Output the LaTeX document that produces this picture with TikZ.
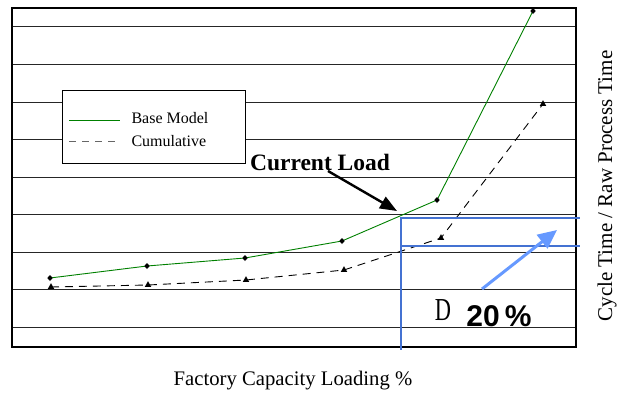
\documentclass[tikz,border=0pt]{standalone}
\usepackage{fontspec}
\setmainfont{Liberation Serif}
\setsansfont{Liberation Sans}
\usetikzlibrary{arrows.meta}
\definecolor{basegreen}{RGB}{0,128,0}
\definecolor{loadblue}{RGB}{68,114,210}
\definecolor{shiftblue}{RGB}{102,153,255}
\begin{document}
\begin{tikzpicture}[x=1pt,y=-1pt,
  gridline/.style={black!85,line width=0.9pt},
  baseline/.style={basegreen,line width=0.9pt},
  cumline/.style={black,line width=0.9pt,dash pattern=on 8pt off 6pt},
  loadline/.style={loadblue,line width=2pt}]

\useasboundingbox (0,0) rectangle (622,394);

% grid and frame
\foreach \gy in {26,64,102,139,177,214,252,289,327}
  \draw[gridline] (12,\gy) -- (576,\gy);
\draw[line width=1.4pt] (12,8) rectangle (576,347);

% base model
\coordinate (b1) at (50,278);
\coordinate (b2) at (147,266);
\coordinate (b3) at (245,258);
\coordinate (b4) at (342,241);
\coordinate (b5) at (437,200);
\coordinate (b6) at (533,11);
\draw[baseline] (b1)--(b2)--(b3)--(b4)--(b5)--(b6);
\foreach \p in {b1,b2,b3,b4,b5,b6}
  \fill (\p) ++(0,-3) -- ++(2.7,3) -- ++(-2.7,3) -- ++(-2.7,-3) -- cycle;

% cumulative
\coordinate (c1) at (51,287);
\coordinate (c2) at (148,285);
\coordinate (c3) at (246,280);
\coordinate (c4) at (344,270);
\coordinate (c5) at (441,238);
\coordinate (c6) at (543,104);
\draw[cumline] (c1)--(c2)--(c3)--(c4)--(c5)--(c6);
\foreach \p in {c1,c2,c3,c4,c5,c6}
  \fill (\p) ++(0,-3.8) -- ++(3.2,5.6) -- ++(-6.4,0) -- cycle;

% current load
\coordinate (load) at (397,211);
\node[font=\bfseries\fontsize{23.5}{26}\selectfont] (curload) at (320,162) {Current Load};
\draw[-{Triangle[length=17pt,width=13pt]},line width=2.4pt] (328,171) -- (load);

\draw[loadline] (401,217) -- (401,350);
\draw[loadline] (401,218) -- (580,218);
\draw[loadline] (401,246) -- (580,246);
\draw[shiftblue,line width=3pt,-{Triangle[length=19pt,width=17pt]}] (482,289) -- (557,230);

\node[font=\fontsize{32}{32}\selectfont] (delta) at (443,310) {\scalebox{0.7}[1]{D}};
\node[font=\sffamily\bfseries\fontsize{30}{30}\selectfont] (pct) at (499,316) {20\,\%};

% legend
\draw[fill=white,line width=0.8pt] (62,90) rectangle (245,163);
\draw[baseline] (69,120) -- (120,120);
\draw[black!60,line width=0.9pt,dash pattern=on 7pt off 6pt] (69,141) -- (120,141);
\node[anchor=west,font=\fontsize{16}{18}\selectfont] (legbase) at (128,118) {Base Model};
\node[anchor=west,font=\fontsize{16}{18}\selectfont] (legcum) at (128,141) {Cumulative};

% axis labels
\node[font=\fontsize{20.7}{23}\selectfont] (xlab) at (293,381) {Factory Capacity Loading \%};
\node[font=\fontsize{21}{23}\selectfont,rotate=90] (ylab) at (607,186) {Cycle Time / Raw Process Time};

\end{tikzpicture}
\end{document}
